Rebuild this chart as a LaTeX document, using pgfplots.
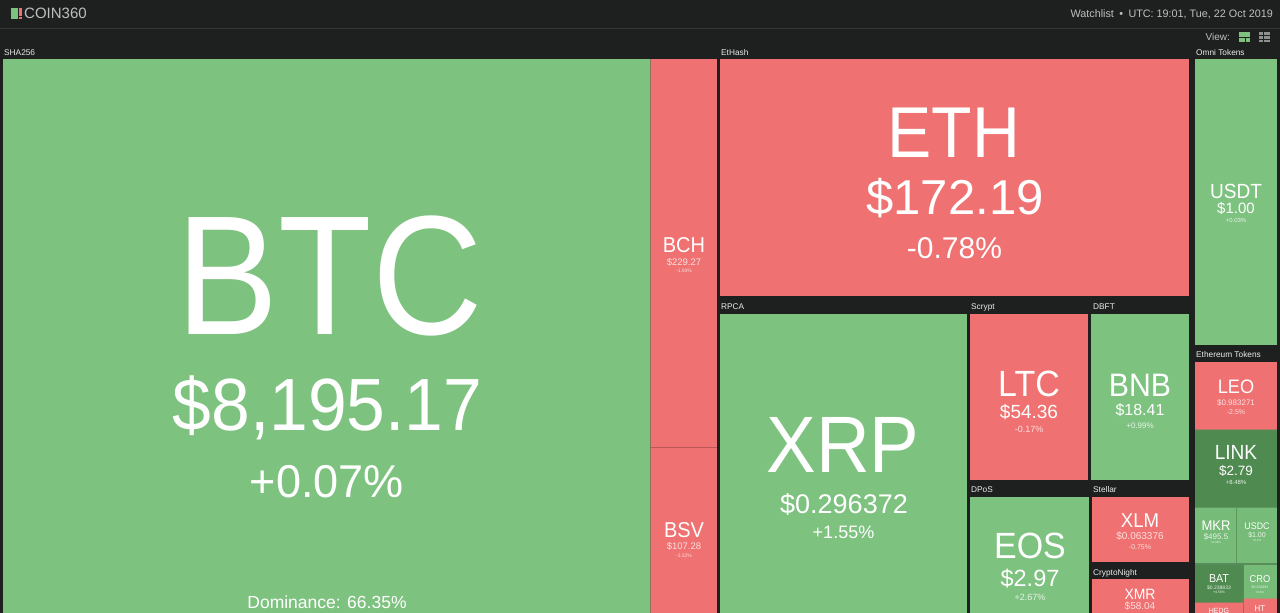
\documentclass[border=0pt]{standalone}
\usepackage{pgfplots}
\pgfplotsset{compat=1.18}
\usepackage{fontspec}
\setmainfont{Liberation Sans}
\definecolor{bg}{RGB}{30,32,32}
\definecolor{gr}{RGB}{126,194,128}
\definecolor{gb}{RGB}{118,187,120}
\definecolor{rd}{RGB}{239,113,113}
\definecolor{dg}{RGB}{79,138,80}
\definecolor{hline}{RGB}{52,54,54}
\definecolor{hdtxt}{RGB}{190,192,192}
\newcommand{\cell}[5]{\addplot[fill=#5,draw=none,forget plot] coordinates {(#1,#2)(#3,#2)(#3,#4)(#1,#4)} --cycle;}
\newcommand{\lbl}[5][white]{\node[anchor=base,inner sep=0pt,text=#1] at (axis cs:#2,#3) {\fontsize{#4}{#4}\selectfont #5};}
\newcommand{\lx}[5]{\node[anchor=base,inner sep=0pt,text=white,xscale=#4] at (axis cs:#1,#2) {\fontsize{#3}{#3}\selectfont #5};}
\newcommand{\grp}[3]{\node[anchor=base west,inner sep=0pt,text=white!92!black] at (axis cs:#1,#2) {\fontsize{8.3}{9}\selectfont #3};}
\colorlet{sub}{white!82!gr}
\colorlet{subr}{white!78!rd}
\begin{document}
\begin{tikzpicture}
\begin{axis}[at={(0,0)},anchor=south west,scale only axis,width=1280pt,height=613pt,
 xmin=0,xmax=1280,ymin=0,ymax=613,y dir=reverse,hide axis]
\cell{0}{0}{1280}{613}{bg}
\cell{0}{28}{1280}{29}{hline}
\cell{11}{8}{18}{19}{gr}
\cell{19}{8}{22}{16}{rd}
\cell{19}{17}{22}{19}{rd}
\node[anchor=base west,inner sep=0pt,text=hdtxt] at (axis cs:24,19) {\fontsize{15}{15}\selectfont COIN360};
\node[anchor=base east,inner sep=0pt,text=hdtxt] at (axis cs:1273,17) {\fontsize{10.8}{11}\selectfont Watchlist\enspace•\enspace UTC: 19:01, Tue, 22 Oct 2019};
\node[anchor=base east,inner sep=0pt,text=hdtxt] at (axis cs:1230,40) {\fontsize{10}{10}\selectfont View:};
\cell{1239}{32}{1250}{42}{gr}
\cell{1239}{36.5}{1250}{37.5}{bg}
\cell{1244.5}{37.5}{1245.3}{42}{bg}
\cell{1259}{32}{1270}{42}{hdtxt!70!bg}
\cell{1259}{35}{1270}{35.8}{bg}
\cell{1259}{38.5}{1270}{39.3}{bg}
\cell{1262.5}{32}{1263.2}{42}{bg}
% soft seams between neighbouring cells
\cell{650}{59}{651}{613}{rd!55!gr!75!black}
\cell{651}{447}{717}{448}{rd!78!black}
\cell{1195}{429}{1277}{430}{rd!60!dg}
\cell{1195}{507}{1277}{508}{gb!80!black}
\cell{1236}{508}{1237}{563}{gb!80!black}
\cell{1195}{563}{1277}{565}{gb!75!black}
\cell{1243}{565}{1244}{613}{gb!75!black}
\cell{1244}{598}{1277}{599}{gb!60!rd}
\cell{1195}{602}{1243}{603}{dg!60!rd}
\cell{3}{59}{650}{613}{gr}
\cell{651}{59}{717}{447}{rd}
\cell{651}{448}{717}{613}{rd}
\cell{720}{59}{1189}{296}{rd}
\cell{720}{314}{967}{613}{gr}
\cell{970}{314}{1088}{480}{rd}
\cell{1091}{314}{1189}{480}{gr}
\cell{970}{497}{1089}{613}{gr}
\cell{1092}{497}{1189}{562}{rd}
\cell{1092}{579}{1189}{613}{rd}
\cell{1195}{59}{1277}{345}{gr}
\cell{1195}{362}{1277}{429}{rd}
\cell{1195}{430}{1277}{507}{dg}
\cell{1195}{508}{1236}{563}{gb}
\cell{1237}{508}{1277}{563}{gb}
\cell{1195}{565}{1243}{602}{dg}
\cell{1244}{565}{1277}{598}{gb}
\cell{1195}{603}{1243}{613}{rd}
\cell{1244}{599}{1277}{613}{rd}
\grp{4}{55}{SHA256}
\grp{721}{55}{EtHash}
\grp{721}{309}{RPCA}
\grp{971}{309}{Scrypt}
\grp{1093}{309}{DBFT}
\grp{971}{492}{DPoS}
\grp{1093}{492}{Stellar}
\grp{1093}{575}{CryptoNight}
\grp{1196}{55}{Omni Tokens}
\grp{1196}{357}{Ethereum Tokens}
\lx{329.5}{334}{170}{.9}{BTC}
\lx{327.5}{430}{74}{.94}{\$8,195.17}
\lx{327}{497}{46}{.98}{+0.07\%}
\lbl{327}{608}{17.5}{Dominance: 66.35\%}
\lx{684}{252}{21.5}{.93}{BCH}
\lbl[subr]{684}{265}{9.5}{\$229.27}
\lbl[subr]{684}{272}{5}{-1.93\%}
\lx{684}{537}{21.5}{.93}{BSV}
\lbl[subr]{684}{549}{9.5}{\$107.28}
\lbl[subr]{684}{557}{5}{-3.32\%}
\lx{954}{157}{72}{.92}{ETH}
\lbl{955}{214}{49}{\$172.19}
\lbl{954.5}{258}{30}{-0.78\%}
\lx{843}{472}{80}{.93}{XRP}
\lbl{844}{513}{27}{\$0.296372}
\lbl{843.5}{538}{18}{+1.55\%}
\lx{1029}{396}{36.5}{.93}{LTC}
\lbl{1029}{418}{19}{\$54.36}
\lbl[subr]{1029}{432}{9}{-0.17\%}
\lx{1140}{396}{32.5}{.93}{BNB}
\lbl{1140}{415}{16}{\$18.41}
\lbl[sub]{1140}{428}{8}{+0.99\%}
\lx{1030}{558}{36.5}{.93}{EOS}
\lbl{1030}{586}{23.5}{\$2.97}
\lbl[sub]{1030}{600}{9}{+2.67\%}
\lx{1140}{527}{20}{.93}{XLM}
\lbl[subr]{1140}{539}{10}{\$0.063376}
\lbl[subr]{1140}{549}{7}{-0.75\%}
\lx{1140}{599}{15}{.93}{XMR}
\lbl[subr]{1140}{609}{10}{\$58.04}
\lx{1236}{198}{20.5}{.93}{USDT}
\lbl{1236}{213}{15}{\$1.00}
\lbl[sub]{1236}{222}{6}{+0.03\%}
\lx{1236}{393}{19.5}{.93}{LEO}
\lbl[subr]{1236}{405}{8}{\$0.983271}
\lbl[subr]{1236}{414}{7}{-2.5\%}
\lx{1236}{459}{20.5}{.93}{LINK}
\lbl{1236}{475}{13.5}{\$2.79}
\lbl[sub]{1236}{484}{6}{+8.48\%}
\lx{1216}{530}{14}{.93}{MKR}
\lbl[sub]{1216}{539}{8}{\$495.5}
\lbl[sub]{1216}{543}{3}{+0.96\%}
\lx{1257}{529}{9.5}{.93}{USDC}
\lbl[sub]{1257}{537}{7}{\$1.00}
\lbl[sub]{1257}{541}{3}{+0.1\%}
\lx{1219}{582}{11.5}{.93}{BAT}
\lbl[sub]{1219}{589}{5}{\$0.238833}
\lbl[sub]{1219}{593}{3.5}{+4.56\%}
\lx{1260}{582}{10}{.93}{CRO}
\lbl[sub]{1260}{588}{3.5}{\$0.032893}
\lbl[sub]{1260}{593}{3}{+0.8\%}
\lx{1219}{613}{7.5}{.93}{HEDG}
\lx{1260}{611}{8.5}{.93}{HT}
\end{axis}
\end{tikzpicture}
\end{document}
